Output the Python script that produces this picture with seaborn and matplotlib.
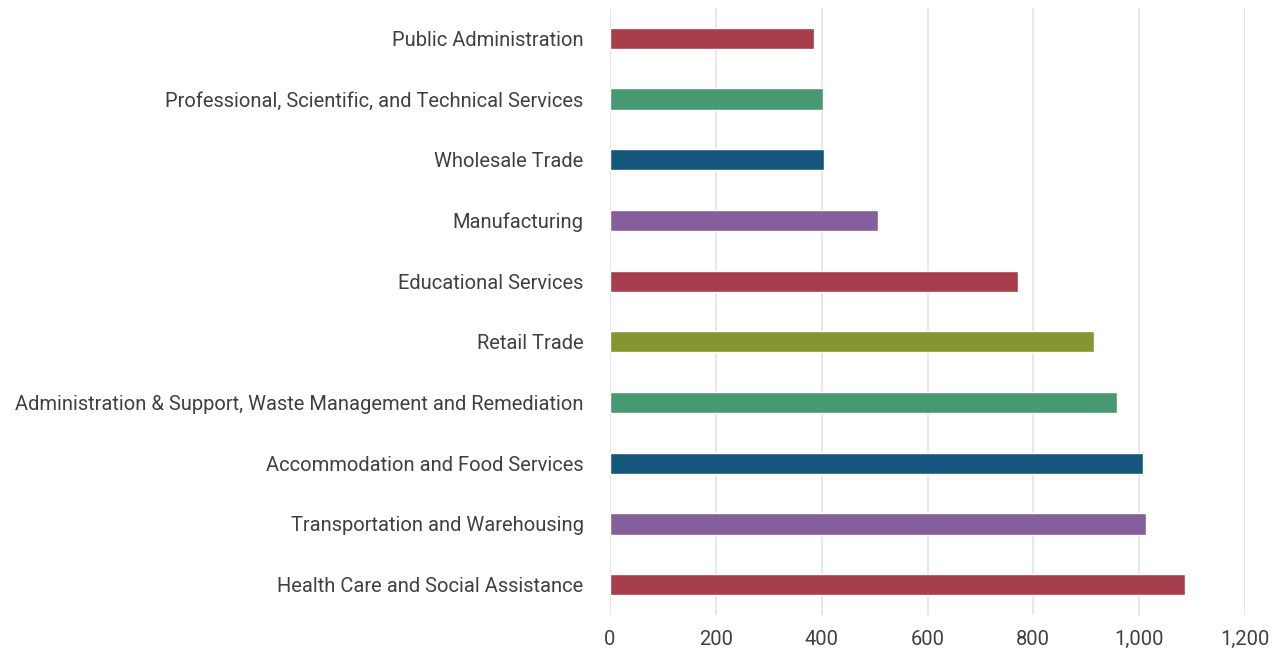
import matplotlib
matplotlib.use("Agg")
import matplotlib.pyplot as plt
import seaborn as sns
import pandas as pd
from matplotlib.ticker import FuncFormatter

industries = [
    "Public Administration",
    "Professional, Scientific, and Technical Services",
    "Wholesale Trade",
    "Manufacturing",
    "Educational Services",
    "Retail Trade",
    "Administration & Support, Waste Management and Remediation",
    "Accommodation and Food Services",
    "Transportation and Warehousing",
    "Health Care and Social Assistance",
]
values = [386, 403, 405, 507, 771, 915, 958, 1007, 1013, 1087]
bar_colors = ["#A63E4C", "#489872", "#15567D", "#845F9C", "#A63E4C",
              "#839632", "#489872", "#15567D", "#845F9C", "#A63E4C"]

df = pd.DataFrame({"industry": industries, "value": values})

sns.set_style("white")
plt.rcParams["font.family"] = ["Roboto", "DejaVu Sans"]

fig = plt.figure(figsize=(12.82, 6.55), dpi=100)
ax = fig.add_axes([610 / 1282, 40 / 655, 635 / 1282, 607 / 655])

sns.barplot(data=df, x="value", y="industry", hue="industry", palette=bar_colors,
            legend=False, width=0.35, ax=ax, saturation=1)

ax.set_xlim(0, 1200)
ax.set_xticks(range(0, 1201, 200))
ax.xaxis.set_major_formatter(FuncFormatter(lambda v, p: f"{int(v):,}"))
ax.grid(axis="x", color="#e3e3e3", linewidth=1.2)
ax.set_axisbelow(True)
for s in ax.spines.values():
    s.set_visible(False)
ax.set_xlabel("")
ax.set_ylabel("")
ax.tick_params(axis="both", length=0, colors="#404040", labelsize=14.5)
ax.tick_params(axis="y", pad=19)
ax.tick_params(axis="x", pad=11)

fig.savefig("out.png", dpi=100)
